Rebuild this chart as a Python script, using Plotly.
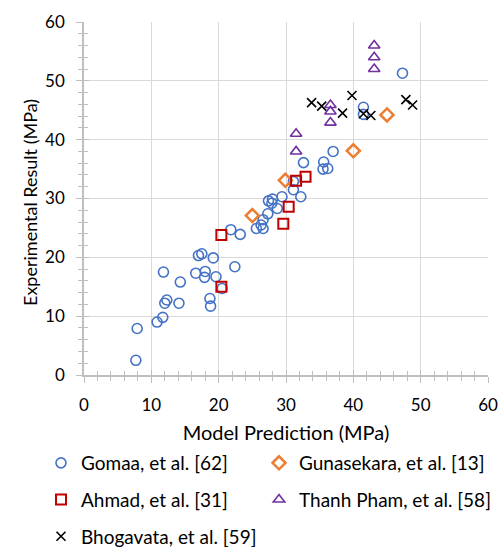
import plotly.graph_objects as go

# ---- data ----
gomaa_x = [7.7, 7.9, 10.85, 11.7, 12.0, 12.3, 11.8, 14.1, 14.3, 16.6, 17.0, 17.5, 18.0, 17.9,
           19.2, 19.6, 18.7, 18.8, 20.5, 22.4, 21.8, 23.2, 25.6, 26.3, 26.6, 26.6, 27.3, 27.4,
           28.0, 27.9, 28.7, 29.4, 32.2, 31.1, 31.1, 32.6, 35.6, 35.5, 36.2, 37.0, 41.5, 41.5, 47.3]
gomaa_y = [2.5, 7.9, 9.0, 9.8, 12.2, 12.75, 17.5, 12.2, 15.8, 17.3, 20.3, 20.6, 17.6, 16.6,
           19.9, 16.7, 13.0, 11.7, 14.7, 18.4, 24.7, 23.9, 24.9, 25.5, 24.9, 26.4, 27.4, 29.6,
           29.9, 29.2, 28.3, 30.3, 30.3, 31.5, 32.9, 36.1, 36.2, 35.0, 35.1, 38.0, 45.5, 44.3, 51.3]

guna_x = [25.0, 29.9, 40.0, 45.0]
guna_y = [27.1, 33.1, 38.1, 44.2]

ahmad_x = [20.4, 20.4, 29.6, 30.4, 31.5, 32.9]
ahmad_y = [23.8, 15.0, 25.7, 28.6, 33.0, 33.7]

pham_x = [31.5, 31.5, 36.6, 36.6, 36.6, 43.1, 43.1, 43.1]
pham_y = [41.0, 38.0, 45.9, 44.8, 42.9, 56.0, 54.0, 52.0]

bhog_x = [33.8, 35.3, 38.4, 39.8, 41.5, 42.6, 47.8, 48.8]
bhog_y = [46.3, 45.7, 44.5, 47.5, 44.4, 44.1, 46.8, 45.9]

axis_range = [0, 60]

FONT = "Lato"
AXC = "#bfbfbf"
GRID = "#d9d9d9"

fig = go.Figure()

def add(x, y, name, symbol, color, size, lw, legend, group):
    fig.add_trace(go.Scatter(
        x=x, y=y, mode="markers", name=name, legend=legend, legendgroup=group,
        marker=dict(symbol=symbol, size=size, color=color, line=dict(color=color, width=lw)),
    ))

add(gomaa_x, gomaa_y, "Gomaa, et al. [62]", "circle-open", "#4472C4", 10, 1.6, "legend", "g1")
add(guna_x, guna_y, "Gunasekara, et al. [13]", "diamond-open", "#ED7D31", 10, 2.5, "legend2", "g2")
add(ahmad_x, ahmad_y, "Ahmad, et al. [31]", "square-open", "#C00000", 10, 2, "legend", "g3")
add(pham_x, pham_y, "Thanh Pham, et al. [58]", "triangle-up-open", "#7030A0", 10, 1.6, "legend2", "g4")
add(bhog_x, bhog_y, "Bhogavata, et al. [59]", "x-thin-open", "#000000", 9, 1.6, "legend", "g5")

# invisible helper trace for the overlay axes (inside half of the crossing ticks)
fig.add_trace(go.Scatter(x=axis_range, y=axis_range, xaxis="x2", yaxis="y2", mode="markers",
                         marker=dict(opacity=0, size=1), showlegend=False, hoverinfo="skip"))

axis_common = dict(
    range=axis_range, dtick=10, tick0=0, showline=True, linecolor=AXC, linewidth=1.5,
    ticks="outside", ticklen=6, tickwidth=1, tickcolor=AXC,
    showgrid=True, gridcolor=GRID, gridwidth=1, zeroline=False,
    minor=dict(dtick=2, ticks="outside", ticklen=4, tickwidth=1, tickcolor=AXC, showgrid=False),
    tickfont=dict(family=FONT, size=17, color="#000"),
)
overlay_common = dict(
    range=axis_range, dtick=10, tick0=0, showline=False, showgrid=False, zeroline=False,
    ticks="inside", ticklen=5, tickwidth=1, tickcolor=AXC, showticklabels=False,
    minor=dict(dtick=2, ticks="inside", ticklen=4, tickwidth=1, tickcolor=AXC, showgrid=False),
)

legend_common = dict(xref="container", xanchor="left", yref="container", yanchor="top",
                     orientation="v", tracegroupgap=9, bgcolor="rgba(0,0,0,0)",
                     font=dict(family=FONT, size=19, color="#000"))

fig.update_layout(
    width=504, height=547,
    margin=dict(l=84, r=16, t=22, b=172, autoexpand=False),
    paper_bgcolor="white", plot_bgcolor="white",
    font=dict(family=FONT, size=17, color="#000"),
    xaxis=dict(**axis_common, ticklabelstandoff=8, automargin=False,
               title=dict(text="Model Prediction (MPa)", font=dict(family=FONT, size=20), standoff=12)),
    yaxis=dict(**axis_common, ticklabelstandoff=8, automargin=False),
    xaxis2=dict(**overlay_common, overlaying="x", anchor="y2", side="bottom"),
    yaxis2=dict(**overlay_common, overlaying="y", anchor="x2", side="left"),
    legend=dict(x=41 / 504, y=1 - 444 / 547, **legend_common),
    legend2=dict(x=259 / 504, y=1 - 444 / 547, **legend_common),
    showlegend=True,
    annotations=[dict(text="Experimental Result (MPa)", xref="paper", yref="paper",
                      x=(30 - 84) / 404, y=(375 - 203) / 353, xanchor="center", yanchor="middle",
                      textangle=-90, showarrow=False, font=dict(family=FONT, size=18, color="#000"))],
)

fig.write_html("out.html", config={"displayModeBar": False},
               post_script="document.body.style.margin='0';")
